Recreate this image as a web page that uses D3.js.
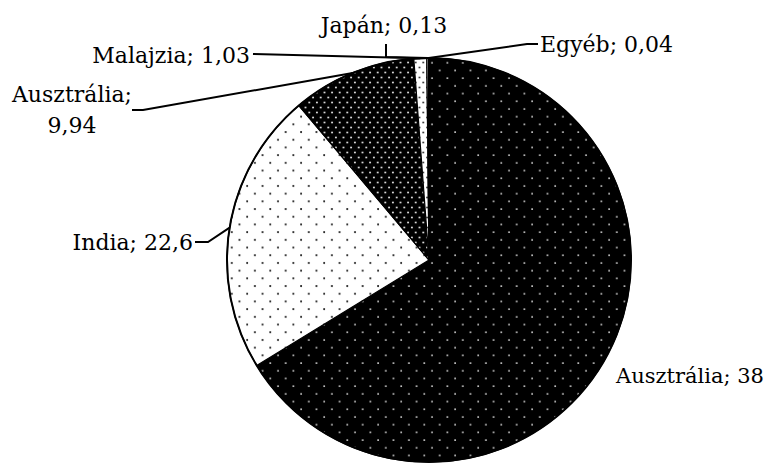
<!DOCTYPE html>
<html>
<head>
<meta charset="utf-8">
<script src="https://cdn.jsdelivr.net/npm/d3@7"></script>
<style>
  html, body { margin: 0; padding: 0; background: #fff; }
  svg text { font-family: "DejaVu Serif", serif; font-size: 22px; fill: #000; }
</style>
</head>
<body>
<svg id="chart" width="768" height="464"></svg>
<script>
// Data (clockwise from 12 o'clock)
const categories = ["Ausztrália", "India", "Ausztrália", "Malajzia", "Japán", "Egyéb"];
// slice shares (angles)
const shares = [66.26, 22.6, 9.94, 1.03, 0.13, 0.04];
// printed data labels
const labelValues = ["38", "22,6", "9,94", "1,03", "0,13", "0,04"];

const svg = d3.select("#chart");
const cx = 429, cy = 260, R = 202;

// patterns
const defs = svg.append("defs");
function dotPattern(id, w, h, bg, fg, r, pts) {
  const p = defs.append("pattern").attr("id", id).attr("patternUnits", "userSpaceOnUse")
    .attr("width", w).attr("height", h);
  p.append("rect").attr("width", w).attr("height", h).attr("fill", bg);
  pts.forEach(([x, y]) => p.append("circle").attr("cx", x).attr("cy", y).attr("r", r).attr("fill", fg));
}
dotPattern("pBig", 15.4, 15.4, "#000", "#e6e6e6", 0.95, [[3, 3], [10.7, 10.7]]);
dotPattern("pIndia", 15.4, 15.4, "#fff", "#111", 1.0, [[3, 3], [10.7, 10.7]]);
dotPattern("pAus2", 7.6, 10, "#000", "#e0e0e0", 1.0, [[1.9, 2.5], [5.7, 7.5]]);
dotPattern("pMal", 7.6, 10, "#fff", "#222", 0.9, [[1.9, 2.5], [5.7, 7.5]]);
const fills = ["url(#pBig)", "url(#pIndia)", "url(#pAus2)", "url(#pMal)", "#fff", "#000"];

const pie = d3.pie().sort(null).value(d => d).startAngle(0).endAngle(2 * Math.PI);
const arcs = pie(shares);
const arc = d3.arc().innerRadius(0).outerRadius(R);

const g = svg.append("g").attr("transform", `translate(${cx},${cy})`);
g.selectAll("path.slice").data(arcs).enter().append("path")
  .attr("class", "slice")
  .attr("d", arc)
  .attr("fill", (d, i) => fills[i])
  .attr("stroke", "#000")
  .attr("stroke-width", 1.2)
  .attr("stroke-linejoin", "round");
// outer ring
g.append("circle").attr("r", R).attr("fill", "none").attr("stroke", "#000").attr("stroke-width", 2);

// point on the outer arc at a slice's mid angle
function edgePt(i, rr) {
  const a = (arcs[i].startAngle + arcs[i].endAngle) / 2;
  return [cx + rr * Math.sin(a), cy - rr * Math.cos(a)];
}

// label layout (positions only)
const labels = [
  { i: 0, lines: [categories[0] + "; " + labelValues[0]], x: 764, y: 383, anchor: "end", size: 21, leader: null },
  { i: 1, lines: [categories[1] + "; " + labelValues[1]], x: 193, y: 250, anchor: "end", leader: [[195, 242], [208, 242]] },
  { i: 2, lines: [categories[2] + ";", labelValues[2]], x: 72, y: 102, anchor: "middle", lh: 31, leader: [[132, 110], [143, 110]] },
  { i: 3, lines: [categories[3] + "; " + labelValues[3]], x: 250, y: 63, anchor: "end", leader: [[253, 54]] },
  { i: 4, lines: [categories[4] + "; " + labelValues[4]], x: 384, y: 33, anchor: "middle", leader: [[386, 44], [386, 57]] },
  { i: 5, lines: [categories[5] + "; " + labelValues[5]], x: 540, y: 52, anchor: "start", leader: [[538, 44], [527, 44]] }
];

const line = d3.line();
labels.forEach(L => {
  if (L.leader) {
    const pts = L.leader.slice();
    pts.push(edgePt(L.i, R));
    svg.append("path").attr("d", line(pts)).attr("fill", "none")
      .attr("stroke", "#000").attr("stroke-width", 2).attr("stroke-linejoin", "miter");
  }
  const t = svg.append("text").attr("x", L.x).attr("y", L.y).attr("text-anchor", L.anchor);
  if (L.size) t.style("font-size", L.size + "px");
  L.lines.forEach((s, k) => {
    t.append("tspan").attr("x", L.x).attr("y", L.y + k * (L.lh || 0)).text(s);
  });
});
</script>
</body>
</html>
